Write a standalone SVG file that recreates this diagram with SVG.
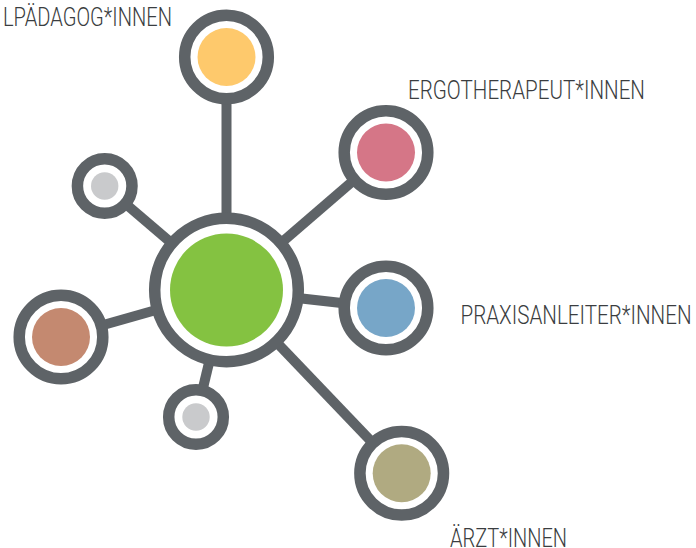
<svg xmlns="http://www.w3.org/2000/svg" width="696" height="548" viewBox="0 0 696 548">
<style>
.ring{fill:#fff;stroke:#5e6367;stroke-width:11.5}
.edge{stroke:#5e6367;stroke-width:10;fill:none}
.lbl{font-family:Roboto,"Liberation Sans",sans-serif;font-weight:300;font-size:26px;fill:#3a3d40}
</style>
<rect width="696" height="548" fill="#fff"/>
<g id="connectors">
<line class="edge" x1="226.5" y1="290" x2="226.5" y2="57"/>
<line class="edge" x1="226.5" y1="290" x2="386" y2="152.5"/>
<line class="edge" x1="226.5" y1="290" x2="386" y2="308"/>
<line class="edge" x1="226.5" y1="290" x2="401.7" y2="473.3"/>
<line class="edge" x1="226.5" y1="290" x2="61" y2="337"/>
<line class="edge" x1="226.5" y1="290" x2="104.7" y2="186"/>
<line class="edge" x1="226.5" y1="290" x2="196" y2="417"/>
</g>
<g id="center">
<circle class="ring" cx="226.5" cy="290" r="71.8"/>
<circle cx="226.5" cy="290" r="56.5" fill="#84c241"/>
</g>
<g id="paedagog">
<circle class="ring" cx="226.5" cy="57" r="41.8"/>
<circle cx="226.5" cy="57" r="29" fill="#fec96c"/>
<text class="lbl" x="3" y="26" textLength="169" lengthAdjust="spacingAndGlyphs">LPÄDAGOG*INNEN</text>
</g>
<g id="ergo">
<circle class="ring" cx="386" cy="152.5" r="41.8"/>
<circle cx="386" cy="152.5" r="29" fill="#d57687"/>
<text class="lbl" x="408" y="99" textLength="237" lengthAdjust="spacingAndGlyphs">ERGOTHERAPEUT*INNEN</text>
</g>
<g id="praxis">
<circle class="ring" cx="386" cy="308" r="41.8"/>
<circle cx="386" cy="308" r="29" fill="#77a6c8"/>
<text class="lbl" x="460.5" y="324" textLength="231" lengthAdjust="spacingAndGlyphs">PRAXISANLEITER*INNEN</text>
</g>
<g id="aerzt">
<circle class="ring" cx="401.7" cy="473.3" r="41.8"/>
<circle cx="401.7" cy="473.3" r="29" fill="#b0aa81"/>
<text class="lbl" x="450" y="546.5" textLength="117" lengthAdjust="spacingAndGlyphs">ÄRZT*INNEN</text>
</g>
<g id="brown">
<circle class="ring" cx="61" cy="337" r="41.8"/>
<circle cx="61" cy="337" r="29" fill="#c48970"/>
</g>
<g id="small1">
<circle class="ring" cx="104.7" cy="186" r="27.3"/>
<circle cx="104.7" cy="186" r="13.7" fill="#c9cacc"/>
</g>
<g id="small2">
<circle class="ring" cx="196" cy="417" r="27.3"/>
<circle cx="196" cy="417" r="13.7" fill="#c9cacc"/>
</g>
</svg>
